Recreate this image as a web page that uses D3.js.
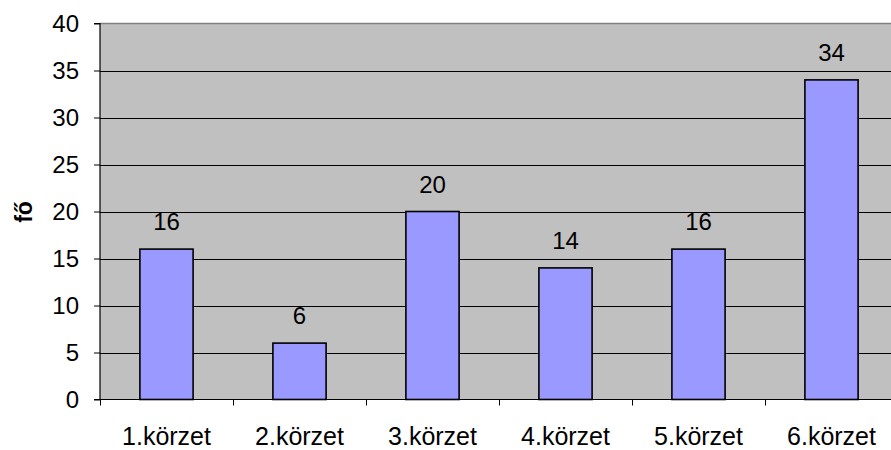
<!DOCTYPE html>
<html><head><meta charset="utf-8">
<script src="https://cdn.jsdelivr.net/npm/d3@7"></script>
<style>body{margin:0;background:#fff}svg{display:block}text{font-family:"Liberation Sans",Arial,sans-serif}</style>
</head><body>
<svg id="c" width="891" height="450"></svg>
<script>
const categories = ["1.körzet","2.körzet","3.körzet","4.körzet","5.körzet","6.körzet"];
const values = [16,6,20,14,16,34];
const yTicks = [0,5,10,15,20,25,30,35,40];
const yLabel = "fő";

(function(){
const svg = d3.select("#c");
const pLeft = 100, pTop = 23.5, pBottom = 399.5, bandW = 133;
const x = d3.scaleBand().domain(categories).range([pLeft, pLeft + bandW*categories.length]).paddingInner(0.6).paddingOuter(0.3);
const y = d3.scaleLinear().domain([0,40]).range([pBottom, pTop]);

svg.append("rect").attr("x", pLeft).attr("y", pTop).attr("width", bandW*6).attr("height", pBottom-pTop).attr("fill", "#c0c0c0");
svg.append("line").attr("x1", pLeft).attr("x2", pLeft+bandW*6).attr("y1", pTop).attr("y2", pTop).attr("stroke", "#808080").attr("stroke-width", 1.5);

svg.append("g").selectAll("line").data(yTicks.filter(d=>d>0 && d<40)).join("line")
  .attr("x1", pLeft).attr("x2", pLeft+bandW*6)
  .attr("y1", d=>Math.round(y(d))+0.5).attr("y2", d=>Math.round(y(d))+0.5)
  .attr("stroke", "#000").attr("stroke-width", 1);

svg.append("g").selectAll("rect").data(values).join("rect")
  .attr("x", (d,i)=>x(categories[i])).attr("width", x.bandwidth())
  .attr("y", d=>y(d)).attr("height", d=>pBottom-y(d))
  .attr("fill", "#9999ff").attr("stroke", "#000").attr("stroke-width", 1.6);

svg.append("g").selectAll("text").data(values).join("text")
  .attr("x", (d,i)=>x(categories[i])+x.bandwidth()/2).attr("y", d=>y(d)-19)
  .attr("text-anchor", "middle").attr("font-size", 24).attr("fill", "#000").text(d=>d);

const yAxis = d3.axisLeft(y).tickValues(yTicks).tickSize(6).tickPadding(15).tickFormat(d3.format("d"));
const gy = svg.append("g").attr("transform", `translate(${pLeft},0)`).call(yAxis);
gy.selectAll("text").attr("font-size", 24).attr("fill", "#000").attr("font-family", '"Liberation Sans",Arial,sans-serif');
gy.select(".domain").attr("stroke", "#000").attr("d", `M-6,${pBottom}H0V${pTop}H-6`).attr("stroke-width",1.2);
gy.selectAll(".tick line").attr("stroke", "#000");

const xEdge = d3.scaleLinear().domain([0,6]).range([pLeft, pLeft+bandW*6]);
const gx = svg.append("g");
gx.append("line").attr("x1", pLeft).attr("x2", pLeft+bandW*6).attr("y1", pBottom).attr("y2", pBottom).attr("stroke", "#000").attr("stroke-width", 1.2);
gx.selectAll("line.t").data(d3.range(0,7)).join("line").attr("class","t")
  .attr("x1", d=>Math.round(xEdge(d))+0.5).attr("x2", d=>Math.round(xEdge(d))+0.5)
  .attr("y1", pBottom).attr("y2", pBottom+6).attr("stroke", "#000");
gx.selectAll("text").data(categories).join("text")
  .attr("x", d=>x(d)+x.bandwidth()/2).attr("y", 445)
  .attr("text-anchor", "middle").attr("font-size", 25).attr("fill", "#000").text(d=>d);

svg.append("text").attr("transform", "translate(32,212) rotate(-90)")
  .attr("text-anchor", "middle").attr("font-size", 23).attr("font-weight", "bold").text(yLabel);
})();
</script>
</body></html>
